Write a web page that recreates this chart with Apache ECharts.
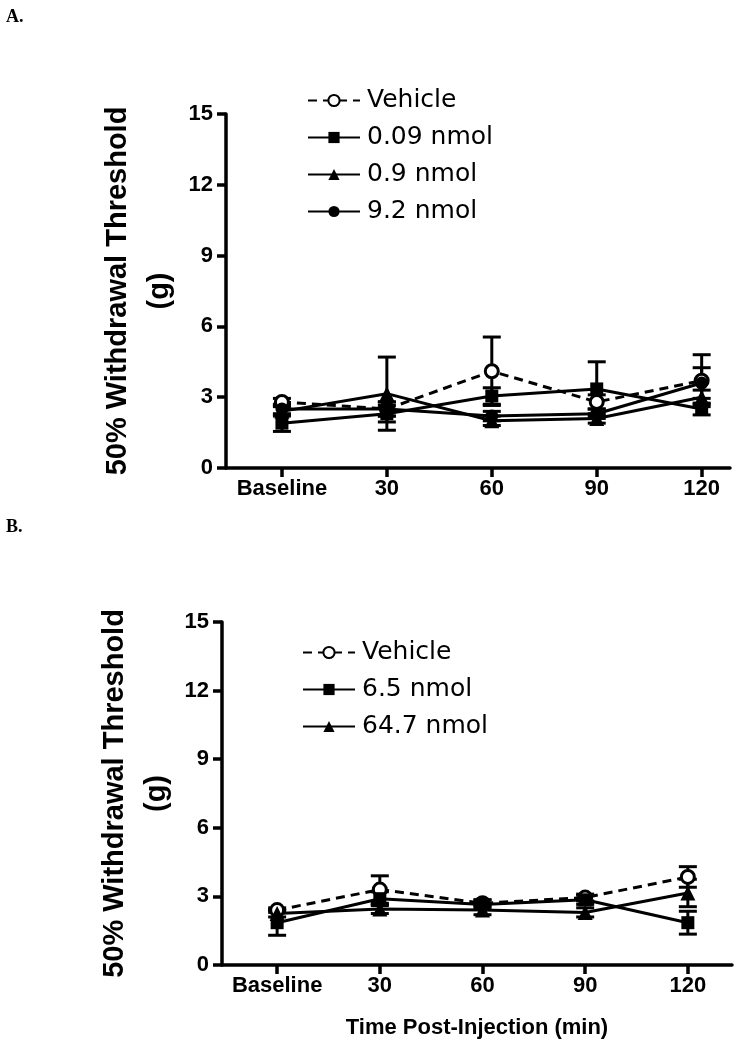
<!DOCTYPE html>
<html>
<head>
<meta charset="utf-8">
<script src="https://cdn.jsdelivr.net/npm/echarts@6/dist/echarts.min.js"></script>
<style>
html,body{margin:0;padding:0;background:#fff;}
#c{width:755px;height:1050px;}
</style>
</head>
<body>
<div id="c"></div>
<script>
// ---- data ----
const categories = ['Baseline', '30', '60', '90', '120'];
const yTicksMax = 15;

// Panel A
const vehicleA = [2.8, 2.5, 4.1, 2.8, 3.7];
const vehicleAErr = [0.15, 0.3, 1.45, 0.3, 1.1];
const nmol009A = [1.9, 2.3, 3.05, 3.35, 2.5];
const nmol009AErr = [0.35, 0.35, 0.35, 1.15, 0.25];
const nmol09A = [2.4, 3.15, 2.0, 2.1, 3.0];
const nmol09AErr = [0.2, 1.55, 0.2, 0.2, 0.3];
const nmol92A = [2.5, 2.5, 2.2, 2.3, 3.6];
const nmol92AErr = [0.2, 0.3, 0.2, 0.2, 0.65];

// Panel B
const vehicleB = [2.4, 3.3, 2.7, 2.95, 3.85];
const vehicleBErr = [0.1, 0.6, 0.15, 0.15, 0.45];
const nmol65B = [1.85, 2.9, 2.65, 2.85, 1.85];
const nmol65BErr = [0.55, 0.3, 0.2, 0.2, 0.5];
const nmol647B = [2.25, 2.45, 2.4, 2.3, 3.15];
const nmol647BErr = [0.15, 0.2, 0.2, 0.2, 0.6];

const FONT = '"Liberation Sans", Arial, sans-serif';

function pts(arr) { return arr.map((v, i) => [i, v]); }
function errPts(arr, err) { return arr.map((v, i) => [i, v - err[i], v + err[i]]); }

function errSeries(arr, err, idx) {
  return {
    type: 'custom',
    xAxisIndex: idx, yAxisIndex: idx,
    silent: true, z: 1,
    data: errPts(arr, err),
    renderItem: function (params, api) {
      const p0 = api.coord([api.value(0), api.value(1)]);
      const p1 = api.coord([api.value(0), api.value(2)]);
      const hw = 9;
      const st = { stroke: '#000', lineWidth: 3, fill: null };
      return {
        type: 'group',
        children: [
          { type: 'line', shape: { x1: p0[0], y1: p0[1], x2: p1[0], y2: p1[1] }, style: st },
          { type: 'line', shape: { x1: p0[0] - hw, y1: p0[1], x2: p0[0] + hw, y2: p0[1] }, style: st },
          { type: 'line', shape: { x1: p1[0] - hw, y1: p1[1], x2: p1[0] + hw, y2: p1[1] }, style: st }
        ]
      };
    }
  };
}

function lineSeries(name, arr, idx, symbol, dashed, open) {
  return {
    type: 'line', name: name,
    xAxisIndex: idx, yAxisIndex: idx, z: 3,
    data: pts(arr),
    symbol: symbol,
    symbolSize: symbol === 'triangle' ? 15 : 13,
    showAllSymbol: true,
    lineStyle: { color: '#000', width: 3, type: dashed ? [9, 6] : 'solid' },
    itemStyle: open ? { color: '#fff', borderColor: '#000', borderWidth: 3 } : { color: '#000', borderColor: '#000', borderWidth: 0 },
    emphasis: { disabled: true },
    animation: false
  };
}

function xAxisDef(idx, min, max, showName) {
  return {
    type: 'value', gridIndex: idx, min: min, max: max,
    splitLine: { show: false },
    axisLine: { show: true, onZero: false, lineStyle: { color: '#000', width: 3.5 } },
    axisTick: { show: true, customValues: [0, 1, 2, 3, 4], length: 9, lineStyle: { color: '#000', width: 3.5 } },
    axisLabel: { customValues: [0, 1, 2, 3, 4], formatter: v => categories[Math.round(v)], color: '#000', fontFamily: FONT, fontWeight: 'bold', fontSize: 22, margin: 10 },
    name: showName ? 'Time Post-Injection (min)' : '',
    nameLocation: 'middle', nameGap: 52,
    nameTextStyle: { color: '#000', fontFamily: FONT, fontWeight: 'bold', fontSize: 22 }
  };
}

function yAxisDef(idx, gap) {
  return {
    type: 'value', gridIndex: idx, min: 0, max: yTicksMax, interval: 3,
    splitLine: { show: false },
    axisLine: { show: true, onZero: false, lineStyle: { color: '#000', width: 3.5 } },
    axisTick: { show: true, length: 9, lineStyle: { color: '#000', width: 3.5 } },
    axisLabel: { color: '#000', fontFamily: FONT, fontWeight: 'bold', fontSize: 22, margin: 13 },
    name: '50% Withdrawal Threshold\n(g)',
    nameLocation: 'middle', nameRotate: 90, nameGap: gap, nameMoveOverlap: false,
    nameTextStyle: { color: '#000', fontFamily: FONT, fontWeight: 'bold', fontSize: 29, lineHeight: 42, align: 'center' }
  };
}

function legendDef(names, left, top) {
  return {
    data: names, left: left, top: top, orient: 'vertical',
    itemWidth: 52, itemHeight: 14, itemGap: 10,
    selectedMode: false,
    textStyle: { color: '#000', fontFamily: '"DejaVu Sans", sans-serif', fontSize: 25, lineHeight: 27, padding: [0, 0, 0, 2] }
  };
}

const chart = echarts.init(document.getElementById('c'), null, { renderer: 'canvas' });
chart.setOption({
  animation: false,
  backgroundColor: '#fff',
  grid: [
    { left: 226, top: 114, width: 504, height: 354 },
    { left: 222, top: 622, width: 510, height: 343 }
  ],
  xAxis: [xAxisDef(0, -0.533, 4.27, false), xAxisDef(1, -0.537, 4.43, true)],
  yAxis: [yAxisDef(0, 45), yAxisDef(1, 44)],
  legend: [
    legendDef(['Vehicle', '0.09 nmol', '0.9 nmol', '9.2 nmol'], 302, 82),
    legendDef(['Vehicle', '6.5 nmol', '64.7 nmol'], 297, 634)
  ],
  graphic: [
    { type: 'text', left: 6, top: 8, style: { text: 'A.', font: 'bold 18px "Liberation Serif", serif', fill: '#000' } },
    { type: 'text', left: 6, top: 518, style: { text: 'B.', font: 'bold 18px "Liberation Serif", serif', fill: '#000' } }
  ],
  series: [
    errSeries(vehicleA, vehicleAErr, 0),
    errSeries(nmol009A, nmol009AErr, 0),
    errSeries(nmol09A, nmol09AErr, 0),
    errSeries(nmol92A, nmol92AErr, 0),
    lineSeries('Vehicle', vehicleA, 0, 'circle', true, true),
    lineSeries('0.09 nmol', nmol009A, 0, 'rect', false, false),
    lineSeries('0.9 nmol', nmol09A, 0, 'triangle', false, false),
    lineSeries('9.2 nmol', nmol92A, 0, 'circle', false, false),
    errSeries(vehicleB, vehicleBErr, 1),
    errSeries(nmol65B, nmol65BErr, 1),
    errSeries(nmol647B, nmol647BErr, 1),
    lineSeries('Vehicle', vehicleB, 1, 'circle', true, true),
    lineSeries('6.5 nmol', nmol65B, 1, 'rect', false, false),
    lineSeries('64.7 nmol', nmol647B, 1, 'triangle', false, false)
  ]
});
</script>
</body>
</html>
